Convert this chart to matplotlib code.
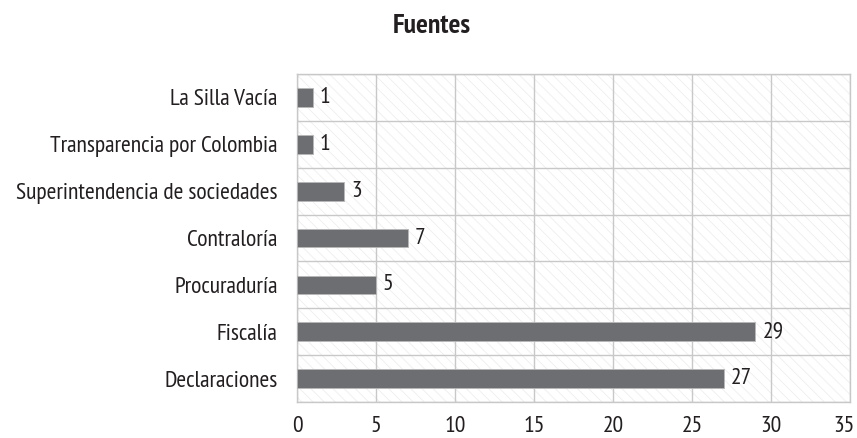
import matplotlib
matplotlib.use("Agg")
import matplotlib.pyplot as plt
from matplotlib.patches import Rectangle
from matplotlib.transforms import ScaledTranslation

# Data (top to bottom as in the chart)
categories = ["La Silla Vacía", "Transparencia por Colombia", "Superintendencia de sociedades",
              "Contraloría", "Procuraduría", "Fiscalía", "Declaraciones"]
values = [1, 1, 3, 7, 5, 29, 27]
x_ticks = [0, 5, 10, 15, 20, 25, 30, 35]

plt.rcParams['font.family'] = ['PT Sans Narrow', 'DejaVu Sans']
plt.rcParams['hatch.linewidth'] = 0.6

fig = plt.figure(figsize=(8.57, 4.38), dpi=100)
ax = fig.add_axes([0.3466, 0.082, 0.6454, 0.749])

n = len(categories)
ypos = list(range(n - 1, -1, -1))

# hatched background
ax.add_patch(Rectangle((0, 0), 1, 1, transform=ax.transAxes, facecolor='white',
                       edgecolor='#eeeeee', hatch='\\\\\\', linewidth=0, zorder=0))

ax.barh(ypos, values, height=0.4, color='#6d6e71', edgecolor='#b8b8b8',
        linewidth=0.6, zorder=3)
for y, v in zip(ypos, values):
    ax.annotate(str(v), (v, y), xytext=(5, 0), textcoords='offset points',
                va='center', ha='left', fontsize=17, color='#231f20')

ax.set_xlim(0, 35)
ax.set_ylim(-0.5, n - 0.5)
ax.set_xticks(x_ticks)
ax.set_xticklabels([str(t) for t in x_ticks], fontsize=17, color='#231f20')
ax.set_yticks(ypos)
ax.set_yticklabels(categories, fontsize=17, color='#231f20')
ax.set_yticks([i - 0.5 for i in range(n + 1)], minor=True)
ax.tick_params(axis='both', which='both', length=0)
ax.tick_params(axis='y', pad=14)
ax.tick_params(axis='x', pad=10)

# last x label sits a little inside the right edge
last = ax.get_xticklabels()[-1]
last.set_transform(last.get_transform() + ScaledTranslation(-6 / 100, 0, fig.dpi_scale_trans))

ax.grid(True, axis='x', which='major', color='#c8c8c8', linewidth=1, zorder=1)
ax.grid(True, axis='y', which='minor', color='#c8c8c8', linewidth=1, zorder=1)
ax.set_axisbelow(True)
for s in ax.spines.values():
    s.set_color('#c8c8c8')
    s.set_linewidth(1)

fig.text(0.504, 0.94, "Fuentes", ha='center', va='center', fontsize=20,
         fontweight='bold', color='#231f20')

fig.savefig("out.png", dpi=100)
